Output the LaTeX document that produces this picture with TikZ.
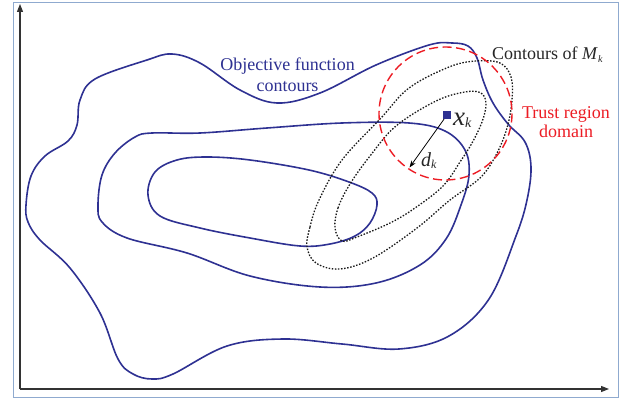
\documentclass[tikz,border=0pt]{standalone}
\usepackage{fontspec}
\setmainfont{Liberation Serif}
\usetikzlibrary{arrows.meta}
\definecolor{navy}{HTML}{2E3192}
\definecolor{trustred}{HTML}{EC1C24}
\definecolor{framegray}{HTML}{8FAACF}
\definecolor{axisgray}{HTML}{333333}

\begin{document}
\begin{tikzpicture}[x=1pt,y=-1pt,
  contour/.style={navy, line width=1.6pt, line join=round},
  model/.style={black!90, line width=1.3pt, dash pattern=on 1.5pt off 1.6pt},
  trust/.style={trustred, line width=1.4pt, dash pattern=on 9pt off 4.5pt},
  lbl/.style={inner sep=0pt, font=\fontsize{18}{21}\selectfont},
  axisline/.style={axisgray, line width=1.1pt, -{Triangle[length=8pt,width=6pt]}},
]
\useasboundingbox (0,0) rectangle (629,401);

% outer frame
\draw[framegray, line width=1pt] (13,3) rectangle (618,397);

% axes
\coordinate (O) at (20,389);
\coordinate (ytop) at (20,4);
\coordinate (xend) at (609,389);
\draw[axisline] (O) -- (ytop);
\draw[axisline] (O) -- (xend);

% objective function contours
\draw[contour] plot[smooth cycle, tension=0.6] coordinates {
  (26,205) (31,176) (45,156) (68,141) (77,125) (80,100) (95,79) (147,60)
  (172,54) (200,63) (240,90) (277,103) (320,93) (376,65) (429,45) (452,43)
  (468,46) (477,58) (483,80) (493,103) (508,124) (525,142) (531,167)
  (527,200) (516,236) (489,299) (449,336) (399,349) (342,344) (283,339)
  (227,346) (173,374) (152,379) (133,374) (118,359) (100,313) (70,268)
  (40,240) (28,222)};
\draw[contour] plot[smooth cycle, tension=0.6] coordinates {
  (98,205) (102,175) (115,153) (135,137) (152,133) (200,133) (267,128)
  (342,123) (409,123) (445,131) (465,150) (469,175) (461,205) (446,239)
  (420,265) (376,283) (320,287) (250,276) (187,253) (127,238) (102,222)};
\draw[contour] plot[smooth cycle, tension=0.6] coordinates {
  (148,195) (155,172) (177,160) (207,157) (250,160) (309,170) (349,182)
  (372,193) (377,205) (370,223) (355,236) (330,244) (300,246) (250,238)
  (200,228) (160,216)};

% contours of the model
\draw[model] plot[smooth cycle, tension=0.6] coordinates {
  (307,247) (310,227) (319,200) (342,160) (381,118) (409,88) (449,67)
  (476,61) (500,63) (511,77) (512,100) (507,128) (496,155) (480,178)
  (450,200) (417,228) (373,258) (340,269) (316,263)};
\draw[model] plot[smooth cycle, tension=0.6] coordinates {
  (335,228) (338,208) (350,184) (370,156) (396,126) (436,101) (465,92)
  (481,93) (486,104) (482,122) (472,143) (460,162) (443,186) (415,208)
  (390,223) (357,237) (342,241)};

% trust region
\coordinate (tc) at (445.5,113.5);
\draw[trust] (tc) circle [radius=66.5];

% current iterate and step
\node[fill=navy, minimum size=8pt, inner sep=0pt] (xk) at (447,115) {};
\coordinate (dend) at (409.5,167.5);
\draw[black, line width=0.8pt, -{Stealth[length=7pt,width=5pt]}] (xk) -- (dend);

% labels
\node[lbl, navy, anchor=base] (obj1) at (287.5,71) {Objective function};
\node[lbl, navy, anchor=base] (obj2) at (287.5,92) {contours};
\node[lbl, black!85, anchor=base west] (mk) at (492,60)
  {Contours of \textit{M}\raisebox{-3pt}{\fontsize{10}{10}\selectfont\itshape k}};
\node[lbl, trustred, anchor=base] (tr1) at (566,119) {Trust region};
\node[lbl, trustred, anchor=base] (tr2) at (566,138) {domain};
\node[inner sep=0pt, anchor=base west, black!85] (xklbl) at (453,125)
  {\fontsize{27}{27}\selectfont\itshape x\raisebox{-2pt}{\fontsize{14}{14}\selectfont k}};
\node[inner sep=0pt, anchor=base west, black!85] (dklbl) at (421,166)
  {\fontsize{20}{20}\selectfont\itshape d\raisebox{-2pt}{\fontsize{12}{12}\selectfont k}};
\end{tikzpicture}
\end{document}
